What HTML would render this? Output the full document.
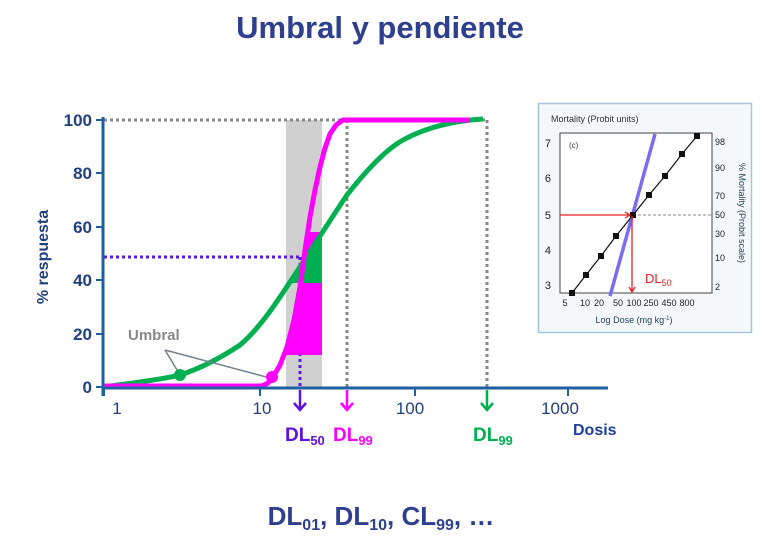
<!DOCTYPE html>
<html><head><meta charset="utf-8"><style>
body{margin:0;background:#fff;width:762px;height:546px;overflow:hidden}
svg{display:block;font-family:"Liberation Sans",sans-serif}
</style></head><body>
<svg width="762" height="546" viewBox="0 0 762 546">
<text x="380" y="38" text-anchor="middle" font-size="31" font-weight="bold" fill="#2e3f8f">Umbral y pendiente</text>
<rect x="286" y="120" width="36" height="267" fill="#d0d0d0"/>
<g stroke="#888" stroke-width="3" stroke-dasharray="3,3" fill="none">
<line x1="104" y1="120" x2="487" y2="120"/>
<line x1="347" y1="120" x2="347" y2="387"/>
<line x1="487" y1="120" x2="487" y2="387"/>
</g>
<g stroke="#5a1adf" stroke-width="3" stroke-dasharray="3,3" fill="none">
<line x1="104" y1="257" x2="300" y2="257"/>
<line x1="300" y1="257" x2="300" y2="387"/>
</g>
<polygon points="285,355 290,335 294,320 300,287 305,250 308,232 322,232 322,355" fill="#ff00ff"/>
<polygon points="288,283 322,283 322,234" fill="#00b050"/>
<path d="M104,387 C130,383 160,380 180,375 C205,367 225,355 240,345 C258,330 275,305 290,282 C305,260 330,220 347,195 C365,172 385,150 403,140 C425,128 450,121 483,119" fill="none" stroke="#00b050" stroke-width="5" stroke-linejoin="round"/>
<polyline points="104,386 262,386 268,383 273,377 280,365 287,347 294,320 300,287 305,250 310,217 315,190 320,167 325,148 330,134 336,125 343,120 470,120" fill="none" stroke="#ff00ff" stroke-width="5" stroke-linejoin="round"/>
<line x1="165" y1="350" x2="180" y2="375" stroke="#708090" stroke-width="1.5"/>
<line x1="165" y1="350" x2="270" y2="378" stroke="#708090" stroke-width="1.5"/>
<circle cx="180" cy="375" r="6" fill="#00b050"/>
<circle cx="272" cy="377" r="6" fill="#ff00ff"/>
<text x="128" y="340" font-size="15" font-weight="bold" fill="#888">Umbral</text>
<line x1="103" y1="117" x2="103" y2="396" stroke="#1f5fa0" stroke-width="3"/>
<line x1="102" y1="388" x2="608" y2="388" stroke="#1f5fa0" stroke-width="3"/>
<g stroke="#1f5fa0" stroke-width="2">
<line x1="96" y1="120" x2="103" y2="120"/><line x1="96" y1="173" x2="103" y2="173"/>
<line x1="96" y1="227" x2="103" y2="227"/><line x1="96" y1="280" x2="103" y2="280"/>
<line x1="96" y1="334" x2="103" y2="334"/><line x1="96" y1="387" x2="103" y2="387"/>
<line x1="104" y1="388" x2="104" y2="396"/><line x1="260" y1="388" x2="260" y2="396"/>
<line x1="415" y1="388" x2="415" y2="396"/><line x1="568" y1="388" x2="568" y2="396"/>
</g>
<g font-size="17" font-weight="bold" fill="#1f3f7f" text-anchor="end">
<text x="92" y="126">100</text><text x="92" y="179">80</text><text x="92" y="233">60</text>
<text x="92" y="286">40</text><text x="92" y="340">20</text><text x="92" y="393">0</text>
</g>
<g font-size="17" fill="#1f3f7f" text-anchor="middle">
<text x="117" y="414">1</text><text x="262" y="414">10</text><text x="410" y="414">100</text><text x="560" y="414">1000</text>
</g>
<text transform="translate(48,257) rotate(-90)" text-anchor="middle" font-size="16" font-weight="bold" fill="#1f3f7f">% respuesta</text>
<g stroke-width="2.5" fill="none">
<path d="M300 390 V410 M294 403 L300 410 L306 403" stroke="#6010e0"/>
<path d="M347 390 V410 M341 403 L347 410 L353 403" stroke="#ff00ff"/>
<path d="M487 390 V410 M481 403 L487 410 L493 403" stroke="#00b050"/>
</g>
<text x="285" y="441" font-size="19" font-weight="bold" fill="#6010e0">DL<tspan font-size="13" dy="4">50</tspan></text>
<text x="333" y="441" font-size="19" font-weight="bold" fill="#ff00ff">DL<tspan font-size="13" dy="4">99</tspan></text>
<text x="473" y="441" font-size="19" font-weight="bold" fill="#00b050">DL<tspan font-size="13" dy="4">99</tspan></text>
<text x="573" y="435" font-size="16" font-weight="bold" fill="#1f3f9f">Dosis</text>
<text x="381" y="525" text-anchor="middle" font-size="26" font-weight="bold" fill="#2e3f8f">DL<tspan font-size="16" dy="5">01</tspan><tspan dy="-5">, DL</tspan><tspan font-size="16" dy="5">10</tspan><tspan dy="-5">, CL</tspan><tspan font-size="16" dy="5">99</tspan><tspan dy="-5">, …</tspan></text>
<rect x="538.5" y="103.5" width="213" height="229" fill="#f4f8fb" stroke="#a8c4dc" stroke-width="1.5"/>
<text x="551" y="122" font-size="9" fill="#333">Mortality (Probit units)</text>
<rect x="560" y="133" width="152" height="160" fill="#fff" stroke="#444" stroke-width="1"/>
<g font-size="11" fill="#222" text-anchor="end">
<text x="551" y="147">7</text><text x="551" y="182">6</text><text x="551" y="219">5</text><text x="551" y="254">4</text><text x="551" y="289">3</text>
</g>
<g font-size="9" fill="#222">
<text x="715" y="145">98</text><text x="715" y="171">90</text><text x="715" y="199">70</text><text x="715" y="218">50</text><text x="715" y="237">30</text><text x="715" y="261">10</text><text x="715" y="290">2</text>
</g>
<g font-size="9" fill="#222" text-anchor="middle">
<text x="565" y="306">5</text><text x="585" y="306">10</text><text x="599" y="306">20</text><text x="618" y="306">50</text><text x="634" y="306">100</text><text x="651" y="306">250</text><text x="669" y="306">450</text><text x="687" y="306">800</text>
</g>
<text x="634" y="323" text-anchor="middle" font-size="9" fill="#1f3f5f">Log Dose (mg kg<tspan font-size="6" dy="-3">-1</tspan><tspan dy="3">)</tspan></text>
<text transform="translate(739,213) rotate(90)" text-anchor="middle" font-size="9" fill="#1f3f5f">% Mortality (Probit scale)</text>
<text x="569" y="148" font-size="8" fill="#345">(c)</text>
<line x1="633" y1="215" x2="712" y2="215" stroke="#888" stroke-dasharray="3,2"/>
<line x1="610" y1="296" x2="655" y2="134" stroke="#7b6cf0" stroke-width="3.5"/>
<polyline points="572,293 586,275 601,256 616,236 633,215 649,195 665,176 682,154 697,136" fill="none" stroke="#111" stroke-width="1.2"/>
<g fill="#111">
<rect x="569" y="290" width="6" height="6"/><rect x="583" y="272" width="6" height="6"/><rect x="598" y="253" width="6" height="6"/><rect x="613" y="233" width="6" height="6"/><rect x="630" y="212" width="6" height="6"/><rect x="646" y="192" width="6" height="6"/><rect x="662" y="173" width="6" height="6"/><rect x="679" y="151" width="6" height="6"/><rect x="694" y="133" width="6" height="6"/>
</g>
<g stroke="#ee2222" stroke-width="1.3" fill="none">
<path d="M560 215 H630 M625 212 L630 215 L625 218"/>
<path d="M632 216 V292 M629 287 L632 292 L635 287"/>
</g>
<text x="645" y="283" font-size="13" fill="#ee2222">DL<tspan font-size="9" dy="3">50</tspan></text>
</svg>
</body></html>
